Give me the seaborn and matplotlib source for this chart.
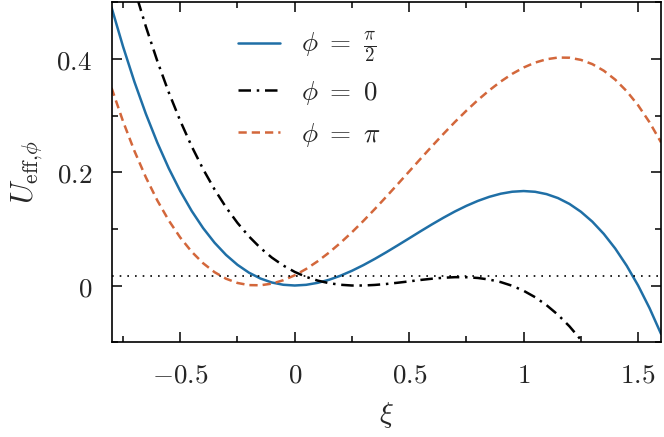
import matplotlib
matplotlib.use("Agg")
import matplotlib.pyplot as plt
import seaborn as sns
from matplotlib.ticker import MultipleLocator

# xi grid (step 0.05)
xi = [-0.80, -0.75, -0.70, -0.65, -0.60, -0.55, -0.50, -0.45, -0.40, -0.35,
      -0.30, -0.25, -0.20, -0.15, -0.10, -0.05, 0.00, 0.05, 0.10, 0.15,
      0.20, 0.25, 0.30, 0.35, 0.40, 0.45, 0.50, 0.55, 0.60, 0.65,
      0.70, 0.75, 0.80, 0.85, 0.90, 0.95, 1.00, 1.05, 1.10, 1.15,
      1.20, 1.25, 1.30, 1.35, 1.40, 1.45, 1.50, 1.55, 1.60]

# phi = pi/2 (solid blue)
u_half_pi = [0.4907, 0.4219, 0.3593, 0.3028, 0.2520, 0.2067, 0.1667, 0.1316, 0.1013, 0.0755,
             0.0540, 0.0365, 0.0227, 0.0124, 0.0053, 0.0013, 0.0000, 0.0012, 0.0047, 0.0101,
             0.0173, 0.0260, 0.0360, 0.0470, 0.0587, 0.0709, 0.0833, 0.0958, 0.1080, 0.1197,
             0.1307, 0.1406, 0.1493, 0.1565, 0.1620, 0.1655, 0.1667, 0.1654, 0.1613, 0.1543,
             0.1440, 0.1302, 0.1127, 0.0911, 0.0653, 0.0350, 0.0000, -0.0400, -0.0853]

# phi = pi (dashed orange)
u_pi = [0.3487, 0.2899, 0.2373, 0.1908, 0.1500, 0.1147, 0.0847, 0.0596, 0.0393, 0.0235,
        0.0120, 0.0045, 0.0007, 0.0004, 0.0033, 0.0093, 0.0180, 0.0292, 0.0427, 0.0581,
        0.0753, 0.0940, 0.1140, 0.1350, 0.1567, 0.1789, 0.2013, 0.2238, 0.2460, 0.2677,
        0.2887, 0.3086, 0.3273, 0.3445, 0.3600, 0.3735, 0.3847, 0.3934, 0.3993, 0.4023,
        0.4020, 0.3982, 0.3907, 0.3791, 0.3633, 0.3430, 0.3180, 0.2880, 0.2527]

# phi = 0 (dash-dot black), only the visible part
xi_zero = [-0.70, -0.65, -0.60, -0.55, -0.50, -0.45, -0.40, -0.35, -0.30, -0.25,
           -0.20, -0.15, -0.10, -0.05, 0.00, 0.05, 0.10, 0.15, 0.20, 0.25,
           0.30, 0.35, 0.40, 0.45, 0.50, 0.55, 0.60, 0.65, 0.70, 0.75,
           0.80, 0.85, 0.90, 0.95, 1.00, 1.05, 1.10, 1.15, 1.20, 1.25, 1.30]
u_zero = [0.5233, 0.4568, 0.3960, 0.3407, 0.2907, 0.2456, 0.2053, 0.1695, 0.1380, 0.1105,
          0.0867, 0.0664, 0.0493, 0.0353, 0.0240, 0.0152, 0.0087, 0.0041, 0.0013, 0.0000,
          0.0000, 0.0010, 0.0027, 0.0049, 0.0073, 0.0098, 0.0120, 0.0137, 0.0147, 0.0146,
          0.0133, 0.0105, 0.0060, -0.0005, -0.0093, -0.0206, -0.0347, -0.0517, -0.0720, -0.0958, -0.1233]

energy_level = 0.0165

xticks = [-0.5, 0, 0.5, 1, 1.5]
xticklabels = ["$-0.5$", "$0$", "$0.5$", "$1$", "$1.5$"]
yticks = [0, 0.2, 0.4]
yticklabels = ["$0$", "$0.2$", "$0.4$"]

sns.set_style("ticks")
plt.rcParams["mathtext.fontset"] = "cm"
plt.rcParams["font.family"] = ["DejaVu Serif"]

blue = "#1f6fa6"
orange = "#d3673b"

fig = plt.figure(figsize=(6.64, 4.37), dpi=100)
ax = fig.add_axes([0.168, 0.217, 0.8275, 0.778])

sns.lineplot(x=xi, y=u_half_pi, ax=ax, color=blue, lw=1.8, label=r"$\phi\ =\ \frac{\pi}{2}$")
sns.lineplot(x=xi_zero, y=u_zero, ax=ax, color="black", lw=1.8,
             label=r"$\phi\ =\ 0$")
sns.lineplot(x=xi, y=u_pi, ax=ax, color=orange, lw=1.8, label=r"$\phi\ =\ \pi$")
ax.lines[1].set_dashes([5.0, 2.3, 1.0, 2.3])
ax.lines[2].set_dashes([3.3, 2.0])
ax.axhline(energy_level, color="black", lw=1.2, ls=(0, (1, 3.6)))

ax.set_xlim(-0.8, 1.6)
ax.set_ylim(-0.1, 0.5)
ax.set_xticks(xticks)
ax.set_xticklabels(xticklabels)
ax.set_yticks(yticks)
ax.set_yticklabels(yticklabels)
ax.xaxis.set_minor_locator(MultipleLocator(0.25))
ax.yaxis.set_minor_locator(MultipleLocator(0.1))
ax.tick_params(which="both", direction="in", top=True, right=True,
               labelsize=19.5, pad=14, width=1.1, color="black")
ax.tick_params(which="major", length=7)
ax.tick_params(which="minor", length=4.5)
for s in ax.spines.values():
    s.set_linewidth(1.2)
    s.set_color("black")

ax.set_xlabel(r"$\xi$", fontsize=21, labelpad=8)
ax.set_ylabel(r"$U_{\mathrm{eff}{,}\phi}$", fontsize=22, labelpad=8)

leg = ax.legend(loc="upper left", bbox_to_anchor=(0.185, 0.99), frameon=False,
                fontsize=19.5, handlelength=1.55, labelspacing=0.5, handletextpad=0.8)

fig.savefig("out.png", dpi=100)
